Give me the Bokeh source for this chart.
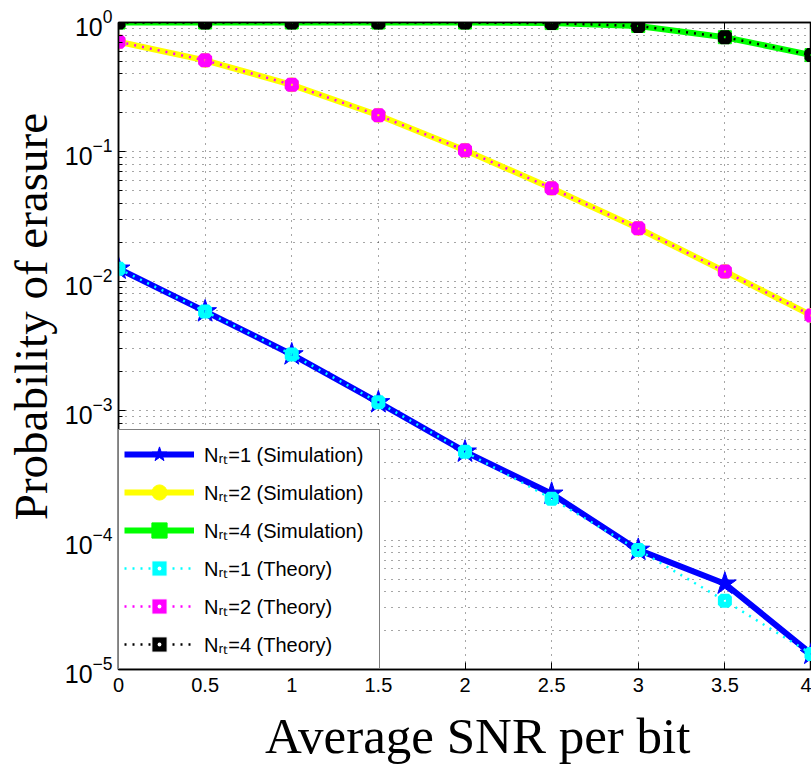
from bokeh.plotting import figure
from bokeh.models import (LinearAxis, FixedTicker, Legend, LegendItem, Range1d)
from bokeh.embed import file_html
from bokeh.resources import INLINE

# ---- data ----
snr = [0, 0.5, 1, 1.5, 2, 2.5, 3, 3.5, 4]

sim_n1 = [0.0125, 0.00585, 0.00272, 0.00116, 0.000482, 0.000228, 8.4e-5, 4.6e-5, 1.32e-5]
sim_n2 = [0.71, 0.51, 0.33, 0.192, 0.103, 0.0524, 0.0257, 0.0119, 0.00545]
sim_n4 = [1.0, 1.0, 1.0, 1.0, 0.999, 0.99, 0.94, 0.77, 0.56]

th_n1 = [0.0125, 0.00585, 0.00272, 0.00116, 0.000482, 0.000209, 8.4e-5, 3.4e-5, 1.32e-5]
th_n2 = [0.71, 0.51, 0.33, 0.192, 0.103, 0.0524, 0.0257, 0.0119, 0.00545]
th_n4 = [1.0, 1.0, 1.0, 1.0, 0.999, 0.99, 0.94, 0.77, 0.56]

x_ticks = [0, 0.5, 1, 1.5, 2, 2.5, 3, 3.5, 4]
x_tick_labels = ["0", "0.5", "1", "1.5", "2", "2.5", "3", "3.5", "4"]
y_ticks = [1e-5, 1e-4, 1e-3, 1e-2, 1e-1, 1e0]
y_minor = [m * d for d in y_ticks[:-1] for m in range(2, 10)]

legend_labels = [
    "N\u1d63\u209c=1 (Simulation)",
    "N\u1d63\u209c=2 (Simulation)",
    "N\u1d63\u209c=4 (Simulation)",
    "N\u1d63\u209c=1 (Theory)",
    "N\u1d63\u209c=2 (Theory)",
    "N\u1d63\u209c=4 (Theory)",
]
x_title = "Average SNR per bit"
y_title = "Probability of erasure"
NBSP = "\u00a0"

BLUE, YELLOW, GREEN = "#0000ff", "#ffff00", "#00ff00"
CYAN, MAGENTA, BLACK = "#00ffff", "#ff00ff", "#000000"

p = figure(width=811, height=770, x_range=Range1d(0, 4), y_range=Range1d(1e-5, 1),
           y_axis_type="log", output_backend="svg", toolbar_location=None,
           min_border_left=118, min_border_top=22, min_border_right=0,
           min_border_bottom=101)
p.background_fill_color = "white"
p.border_fill_color = "white"
p.outline_line_color = "black"
p.outline_line_width = 1.5

xt = FixedTicker(ticks=x_ticks)
yt = FixedTicker(ticks=y_ticks, minor_ticks=y_minor)

TICK_FONT = "Liberation Sans"
SERIF = "Liberation Serif"

xa = p.xaxis[0]
xa.ticker = xt
xa.major_label_overrides = dict(zip(x_ticks, x_tick_labels))
xa.major_tick_in = 7
xa.major_tick_out = 0
xa.minor_tick_line_color = None
xa.major_label_text_font = TICK_FONT
xa.major_label_text_font_size = "20px"
xa.major_label_text_color = "black"
xa.major_label_standoff = 8
xa.axis_line_width = 1.5
xa.axis_label = NBSP * 2 + x_title
xa.axis_label_text_font = SERIF
xa.axis_label_text_font_size = "51px"
xa.axis_label_text_font_style = "normal"
xa.axis_label_text_color = "black"
xa.axis_label_standoff = 13

ya = p.yaxis[0]
ya.ticker = yt
ya.major_tick_in = 7
ya.major_tick_out = 0
ya.minor_tick_in = 4
ya.minor_tick_out = 0
ya.major_label_text_font = TICK_FONT
ya.major_label_text_font_size = "25px"
ya.major_label_text_color = "black"
ya.major_label_standoff = 6
ya.axis_line_width = 1.5
ya.axis_label = NBSP * 5 + y_title
ya.axis_label_text_font = SERIF
ya.axis_label_text_font_size = "47px"
ya.axis_label_text_font_style = "normal"
ya.axis_label_text_color = "black"
ya.axis_label_standoff = 5

top = LinearAxis(ticker=xt, major_tick_in=7, major_tick_out=0,
                 minor_tick_line_color=None,
                 major_label_overrides={t: "" for t in x_ticks},
                 major_label_text_color=None, major_label_text_font_size="1px",
                 major_label_standoff=0, axis_line_width=1.5)
p.add_layout(top, "above")

for g, t in ((p.xgrid[0], xt), (p.ygrid[0], yt)):
    g.ticker = t
    g.grid_line_color = "black"
    g.grid_line_alpha = 0.7
    g.grid_line_dash = "1 6"
    g.grid_line_width = 1
p.ygrid[0].minor_grid_line_color = "black"
p.ygrid[0].minor_grid_line_alpha = 0.7
p.ygrid[0].minor_grid_line_dash = "1 6"

# simulation curves
l1 = p.line(snr, sim_n1, line_color=BLUE, line_width=6)
m1 = p.scatter(snr, sim_n1, marker="star", size=24, fill_color=BLUE, line_color=BLUE)
l2 = p.line(snr, sim_n2, line_color=YELLOW, line_width=6)
m2 = p.scatter(snr, sim_n2, marker="circle", size=14, fill_color=YELLOW, line_color=YELLOW)
l4 = p.line(snr, sim_n4, line_color=GREEN, line_width=6)
m4 = p.scatter(snr, sim_n4, marker="square", size=13, fill_color=GREEN, line_color=GREEN)

# theory curves
nan = float("nan")
theory = []
for ys, col in ((th_n1, CYAN), (th_n2, MAGENTA), (th_n4, BLACK)):
    tl = p.line(snr, ys, line_color=col, line_width=2.5, line_dash="2 6")
    tm = p.scatter(snr, ys, marker="square", size=8, fill_alpha=0,
                   line_color=col, line_width=6)
    # legend-only swatch (not visible in the plot area)
    swatch = p.scatter(x=[nan], y=[nan], marker="square_dot", size=10,
                       fill_color=col, line_color="white", line_width=1)
    theory.append((tl, swatch))

items = [
    LegendItem(label=legend_labels[0], renderers=[l1, m1]),
    LegendItem(label=legend_labels[1], renderers=[l2, m2]),
    LegendItem(label=legend_labels[2], renderers=[l4, m4]),
    LegendItem(label=legend_labels[3], renderers=list(theory[0])),
    LegendItem(label=legend_labels[4], renderers=list(theory[1])),
    LegendItem(label=legend_labels[5], renderers=list(theory[2])),
]
legend = Legend(items=items, location="bottom_left", margin=0, padding=5,
                spacing=0, glyph_height=38, glyph_width=70, label_standoff=10,
                label_width=170, label_text_font=TICK_FONT,
                label_text_font_size="20px", label_text_color="black",
                border_line_color="black", border_line_width=1.5,
                background_fill_color="white", background_fill_alpha=1)
p.add_layout(legend, "center")

open("out.html", "w").write(file_html(p, INLINE))
